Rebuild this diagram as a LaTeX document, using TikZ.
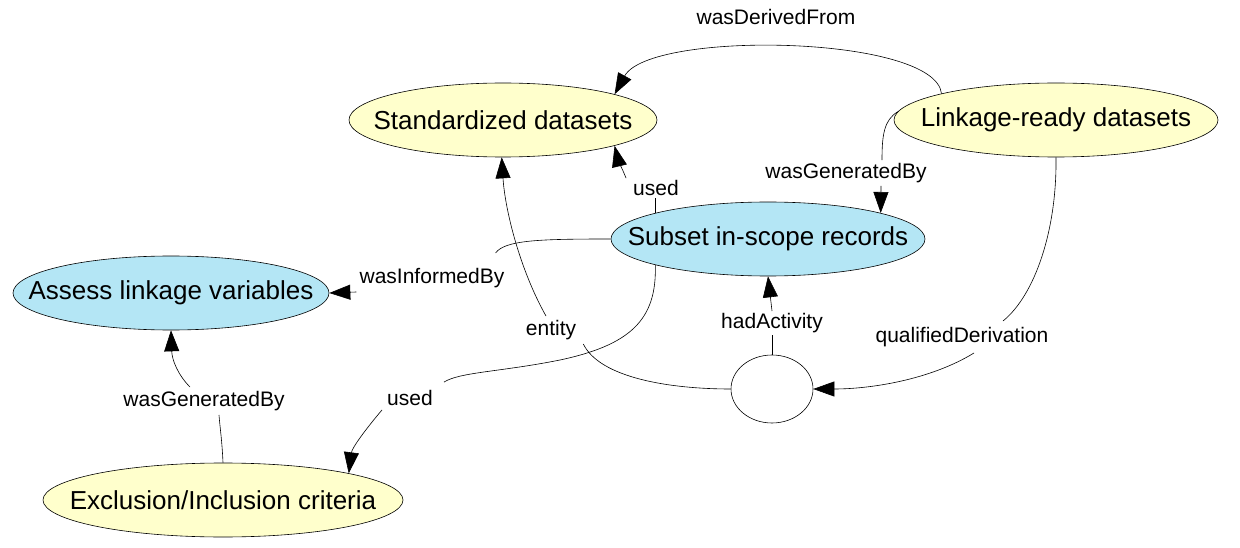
\documentclass[tikz,border=0pt]{standalone}
\usepackage{fontspec}
\setmainfont{Liberation Sans}
\usetikzlibrary{arrows.meta,calc,shapes.geometric}
\definecolor{entyellow}{RGB}{255,255,204}
\definecolor{actblue}{RGB}{180,230,245}
\begin{document}
\begin{tikzpicture}[x=1pt,y=-1pt,
  shp/.style={ellipse,draw,inner sep=0pt,line width=0.6pt,minimum height=74pt},
  ent/.style={shp,fill=entyellow},
  act/.style={shp,fill=actblue},
  txt/.style={label={[font=\fontsize{26}{30}\selectfont]center:#1}},
  lbl/.style={inner xsep=3pt,inner ysep=2pt,font=\fontsize{21}{25}\selectfont},
  edge/.style={line width=0.6pt},
  arr/.style={line width=0.6pt,-{Triangle[length=21pt,width=15pt]}}]
\useasboundingbox (0,0) rectangle (1240,548);
% nodes
\node[ent,minimum width=308pt,txt={Standardized datasets}] (std) at (503,120) {};
\node[ent,minimum width=324pt,txt={Linkage-ready datasets}] (link) at (1056,120) {};
\node[act,minimum width=314pt,txt={Subset in-scope records}] (sub) at (768,239) {};
\node[act,minimum width=316pt,txt={Assess linkage variables}] (ass) at (171,293) {};
\node[ent,minimum width=360pt,txt={Exclusion/Inclusion criteria}] (exc) at (223,500) {};
\node[ellipse,draw,line width=0.6pt,minimum width=82pt,minimum height=68pt,inner sep=0pt] (circ) at (772,389) {};
% labels
\node[lbl] (L1) at (776,17) {wasDerivedFrom};
\node[lbl] (L2) at (846,173) {wasGeneratedBy};
\node[lbl] (L3) at (656,188) {used};
\node[lbl] (L4) at (432,278) {wasInformedBy};
\node[lbl] (L5) at (551,330) {entity};
\node[lbl] (L6) at (772,323) {hadActivity};
\node[lbl] (L7) at (962,337) {qualifiedDerivation};
\node[lbl] (L8) at (410,398) {used};
\node[lbl] (L9) at (204,401) {wasGeneratedBy};
% E1 wasDerivedFrom
\draw[arr] (link.167) .. controls (935,35) and (650,30) .. (std.13);
% E2 wasGeneratedBy
\draw[edge] (link.177) .. controls (884,120) and (882,135) .. ($(L2.north)+(36,-1)$);
\draw[arr] ($(L2.south)+(35,1)$) -- (sub.13);
% E3 used
\draw[edge] (sub.167) -- (L3.south -| sub.167);
\draw[arr] ($(L3.north west)+(-4,0)$) .. controls (622,168) and (618,160) .. (std.-13);
% E4 wasInformedBy
\draw[edge] (sub.180) .. controls (540,239) and (505,240) .. ($(L4.north east)+(-12,-13)$);
\draw[arr] ($(L4.south west)+(0,2)$) -- (ass.0);
% E5 entity
\draw[edge] (circ.180) .. controls (670,389) and (600,378) .. ($(L5.south east)+(4,2)$);
\draw[arr] ($(L5.north)+(-5,-2)$) .. controls (520,270) and (505,210) .. (std.268);
% E6 hadActivity
\draw[edge] (circ.90) -- (L6.south);
\draw[arr] (L6.north) -- (sub.270);
% E7 qualifiedDerivation
\draw[edge] (link.270) .. controls (1057,230) and (1035,295) .. ($(L7.north)+(41,-4)$);
\draw[arr] ($(L7.south)+(12,4)$) .. controls (930,380) and (870,389) .. (circ.0);
% E8 used
\draw[edge] (sub.193) .. controls (657,320) and (630,345) .. (560,360) .. controls (500,372) and (460,372) .. ($(L8.north east)+(8,-6)$);
\draw[arr] ($(L8.south west)+(-2,2)$) .. controls (365,430) and (352,448) .. (exc.12);
% E9 wasGeneratedBy
\draw[edge] (exc.90) .. controls (222,440) and (220,428) .. ($(L9.south)+(15,2)$);
\draw[arr] ($(L9.north)+(-14,-2)$) .. controls (178,375) and (172,360) .. (ass.270);
\end{tikzpicture}
\end{document}
